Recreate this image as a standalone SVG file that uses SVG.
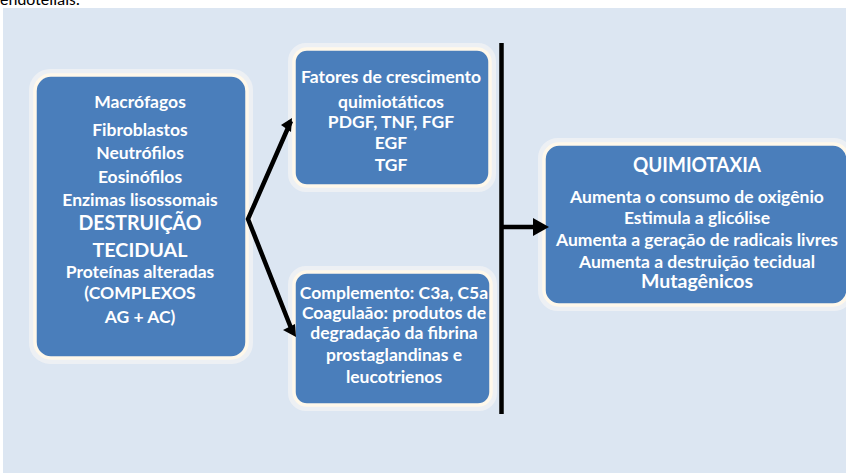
<svg xmlns="http://www.w3.org/2000/svg" width="846" height="473" viewBox="0 0 846 473">
<style>
.box{fill:#4A7EBB;stroke:#FFF8EA;stroke-width:3.5}
.glow{fill:none;stroke:#EEF1F4;stroke-width:8;opacity:0.9}
.t{font-family:Lato,"Open Sans","Liberation Sans",sans-serif;font-weight:bold;fill:#FFFFFF;text-anchor:middle;font-size:17.5px}
.conn{stroke:#000;stroke-width:4.5;fill:none}
</style>
<rect width="846" height="473" fill="#FFFFFF"/>
<text x="0" y="5" font-family="Calibri,'Open Sans','Liberation Sans',sans-serif" font-size="17" fill="#000">endoteliais.</text>
<rect x="3" y="8" width="843" height="465" fill="#DCE6F2"/>

<g id="left">
<rect class="glow" x="33" y="73" width="216" height="287" rx="17"/>
<rect class="box" x="35" y="75" width="212" height="283" rx="16"/>
<text class="t" x="140" y="108">Macrófagos</text>
<text class="t" x="140" y="136">Fibroblastos</text>
<text class="t" x="140" y="159">Neutrófilos</text>
<text class="t" x="140" y="183">Eosinófilos</text>
<text class="t" x="140" y="206">Enzimas lisossomais</text>
<text class="t" x="140" y="230" style="font-size:20px" textLength="123" lengthAdjust="spacingAndGlyphs">DESTRUIÇÃO</text>
<text class="t" x="140" y="257" style="font-size:19.5px" textLength="95" lengthAdjust="spacingAndGlyphs">TECIDUAL</text>
<text class="t" x="140" y="278">Proteínas alteradas</text>
<text class="t" x="140" y="299">(COMPLEXOS</text>
<text class="t" x="140" y="323">AG + AC)</text>
</g>

<g id="top-middle">
<rect class="glow" x="292" y="47" width="200" height="141" rx="14"/>
<rect class="box" x="294" y="49" width="196" height="137" rx="13"/>
<text class="t" x="391" y="83">Fatores de crescimento</text>
<text class="t" x="391" y="108">quimiotáticos</text>
<text class="t" x="391" y="128">PDGF, TNF, FGF</text>
<text class="t" x="391" y="149">EGF</text>
<text class="t" x="391" y="171">TGF</text>
</g>

<g id="bottom-middle">
<rect class="glow" x="292" y="270" width="201" height="137" rx="14"/>
<rect class="box" x="294" y="272" width="197" height="133" rx="13"/>
<text class="t" x="394" y="299">Complemento: C3a, C5a</text>
<text class="t" x="394" y="319">Coagulaão: produtos de</text>
<text class="t" x="394" y="339">degradação da fibrina</text>
<text class="t" x="394" y="361">prostaglandinas e</text>
<text class="t" x="394" y="383">leucotrienos</text>
</g>

<g id="right">
<rect class="glow" x="542" y="142" width="308" height="165" rx="16"/>
<rect class="box" x="544" y="144" width="304" height="161" rx="15"/>
<text class="t" x="697" y="172" style="font-size:20px" textLength="128" lengthAdjust="spacingAndGlyphs">QUIMIOTAXIA</text>
<text class="t" x="697" y="203">Aumenta o consumo de oxigênio</text>
<text class="t" x="697" y="224">Estimula a glicólise</text>
<text class="t" x="697" y="246">Aumenta a geração de radicais livres</text>
<text class="t" x="697" y="268">Aumenta a destruição tecidual</text>
<text class="t" x="697" y="288" style="font-size:18px" textLength="112" lengthAdjust="spacingAndGlyphs">Mutagênicos</text>
</g>

<g id="connectors">
<polyline class="conn" points="291,121 248,219 293,333" stroke-linejoin="miter"/>
<path d="M281,125 L292,118 L291,132 z" fill="#000"/>
<path d="M296,337 L283,330 L295,324 z" fill="#000"/>
<line class="conn" x1="501.5" y1="43" x2="501.5" y2="414"/>
<line class="conn" x1="501.5" y1="227" x2="534" y2="227"/>
<path d="M533,218 L549,227 L533,236 z" fill="#000"/>
</g>
</svg>
